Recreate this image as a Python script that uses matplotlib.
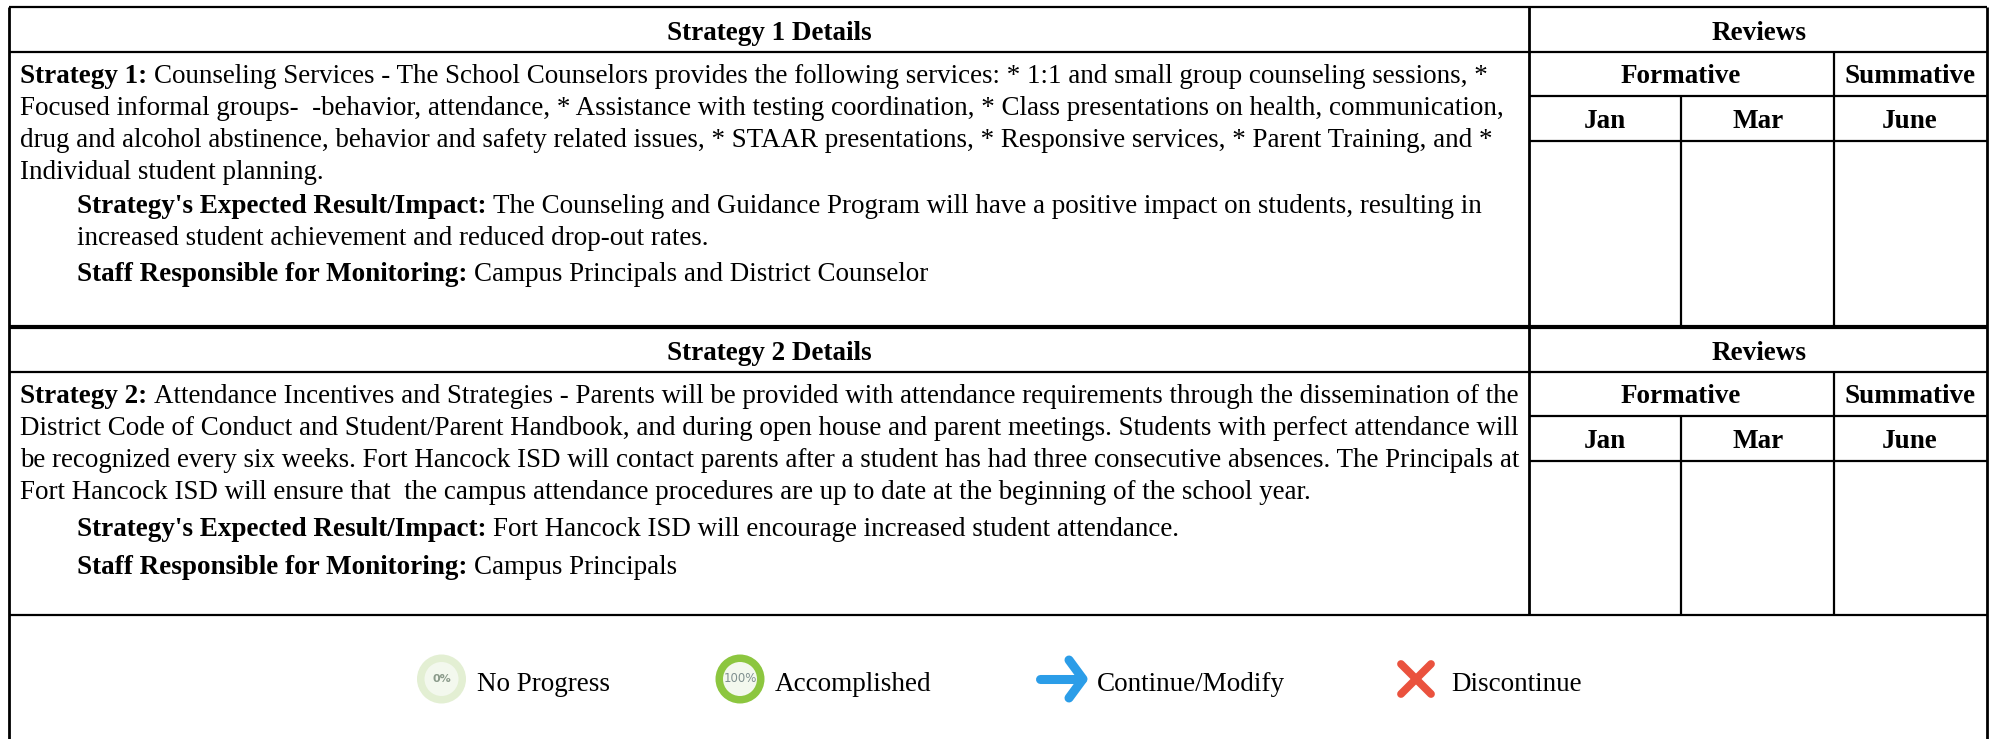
import matplotlib
matplotlib.use("Agg")
import matplotlib.pyplot as plt
from matplotlib.patches import Circle

plt.rcParams['font.family'] = ['Liberation Serif', 'DejaVu Serif']

# Table text
header_left = ["Strategy 1 Details", "Strategy 2 Details"]
header_right = "Reviews"
group_labels = ["Formative", "Summative"]
month_labels = ["Jan", "Mar", "June"]

strategy_1_lines = [
    ("Strategy 1:", " Counseling Services - The School Counselors provides the following services: * 1:1 and small group counseling sessions, *"),
    ("", "Focused informal groups-  -behavior, attendance, * Assistance with testing coordination, * Class presentations on health, communication,"),
    ("", "drug and alcohol abstinence, behavior and safety related issues, * STAAR presentations, * Responsive services, * Parent Training, and *"),
    ("", "Individual student planning."),
]
strategy_1_result = [
    ("Strategy's Expected Result/Impact:", " The Counseling and Guidance Program will have a positive impact on students, resulting in"),
    ("", "increased student achievement and reduced drop-out rates."),
]
strategy_1_staff = ("Staff Responsible for Monitoring:", " Campus Principals and District Counselor")

strategy_2_lines = [
    ("Strategy 2:", " Attendance Incentives and Strategies - Parents will be provided with attendance requirements through the dissemination of the"),
    ("", "District Code of Conduct and Student/Parent Handbook, and during open house and parent meetings. Students with perfect attendance will"),
    ("", "be recognized every six weeks. Fort Hancock ISD will contact parents after a student has had three consecutive absences. The Principals at"),
    ("", "Fort Hancock ISD will ensure that  the campus attendance procedures are up to date at the beginning of the school year."),
]
strategy_2_result = [
    ("Strategy's Expected Result/Impact:", " Fort Hancock ISD will encourage increased student attendance."),
]
strategy_2_staff = ("Staff Responsible for Monitoring:", " Campus Principals")

legend_labels = ["No Progress", "Accomplished", "Continue/Modify", "Discontinue"]

FS = 19.45
FS_BOLD = 19.5

fig = plt.figure(figsize=(19.93, 7.39), dpi=100)
ax = fig.add_axes([0, 0, 1, 1])
ax.set_xlim(0, 1993)
ax.set_ylim(739, 0)
ax.axis("off")


def hline(y, x0=9, x1=1987, lw=1.6):
    ax.plot([x0, x1], [y, y], color="black", lw=lw, solid_capstyle="butt")


def vline(x, y0, y1, lw=1.6):
    ax.plot([x, x], [y0, y1], color="black", lw=lw, solid_capstyle="butt")


def rich_line(x, y, bold, normal):
    # bold lead-in, then the normal text right after it
    if bold:
        t = ax.text(x, y, bold, fontsize=FS_BOLD, fontweight="bold", va="baseline", ha="left")
        box = t.get_window_extent(fig.canvas.get_renderer())
        x = box.x1 + 7
        normal = normal.lstrip()
    ax.text(x, y, normal, fontsize=FS, va="baseline", ha="left")


def strategy_block(top, bottom, title, lines, result, staff, gap_a, gap_b):
    # top = upper edge of header row
    y1 = top + 45
    y2 = y1 + 44
    y3 = y2 + 45
    hline(y1)
    hline(y2, 1529, 1987)
    hline(y3, 1529, 1987)
    vline(1529, top, bottom, lw=2)
    vline(1681, y2, bottom)
    vline(1834, y1, bottom)

    ax.text(769, top + 33, title, fontsize=FS_BOLD, fontweight="bold", ha="center", va="baseline")
    ax.text(1759, top + 33, header_right, fontsize=FS_BOLD, fontweight="bold", ha="center", va="baseline")
    ax.text(1681, y1 + 31, group_labels[0], fontsize=FS_BOLD, fontweight="bold", ha="center", va="baseline")
    ax.text(1910, y1 + 31, group_labels[1], fontsize=FS_BOLD, fontweight="bold", ha="center", va="baseline")
    for cx, m in zip([1605, 1758, 1910], month_labels):
        ax.text(cx, y2 + 32, m, fontsize=FS_BOLD, fontweight="bold", ha="center", va="baseline")

    y = y1 + 31
    for b, n in lines:
        rich_line(20, y, b, n)
        y += 32
    y += gap_a
    for b, n in result:
        rich_line(77, y, b, n)
        y += 32
    y += gap_b
    rich_line(77, y, staff[0], staff[1])


# outer frame and the thick rule between the strategies
hline(7)
hline(327, lw=3)
hline(615)
vline(9, 7, 739, lw=2)
vline(1987, 7, 739, lw=2)

strategy_block(7, 327, header_left[0], strategy_1_lines, strategy_1_result, strategy_1_staff, 2, 4)
strategy_block(327, 615, header_left[1], strategy_2_lines, strategy_2_result, strategy_2_staff, 5, 6)

# legend icons
ax.add_patch(Circle((441.5, 679), 24.5, fc="#e3efd3", ec="none"))
ax.add_patch(Circle((441.5, 679), 17, fc="#f3f8ee", ec="none"))
ax.text(441.5, 679, "0%", fontsize=8, color="#8a9a8a", family="DejaVu Sans", fontweight="bold", ha="center", va="center")

ax.add_patch(Circle((740, 679), 24.5, fc="#8cc63f", ec="none"))
ax.add_patch(Circle((740, 679), 17, fc="#f3f8ee", ec="none"))
ax.text(740, 679, "100%", fontsize=8.5, color="#7f8f8f", family="DejaVu Sans", ha="center", va="center")

blue = "#2b9de8"
ax.plot([1040, 1082], [679, 679], color=blue, lw=6.5, solid_capstyle="round")
ax.plot([1069, 1083, 1069], [660, 679, 698], color=blue, lw=6.5, solid_capstyle="round", solid_joinstyle="round")

red = "#ea523e"
ax.plot([1401, 1431], [664, 694], color=red, lw=5.6, solid_capstyle="round")
ax.plot([1401, 1431], [694, 664], color=red, lw=5.6, solid_capstyle="round")

for x, lab in zip([477, 775, 1097, 1451], legend_labels):
    ax.text(x, 691, lab, fontsize=19.5, ha="left", va="baseline")

fig.savefig("out.png", dpi=100)
